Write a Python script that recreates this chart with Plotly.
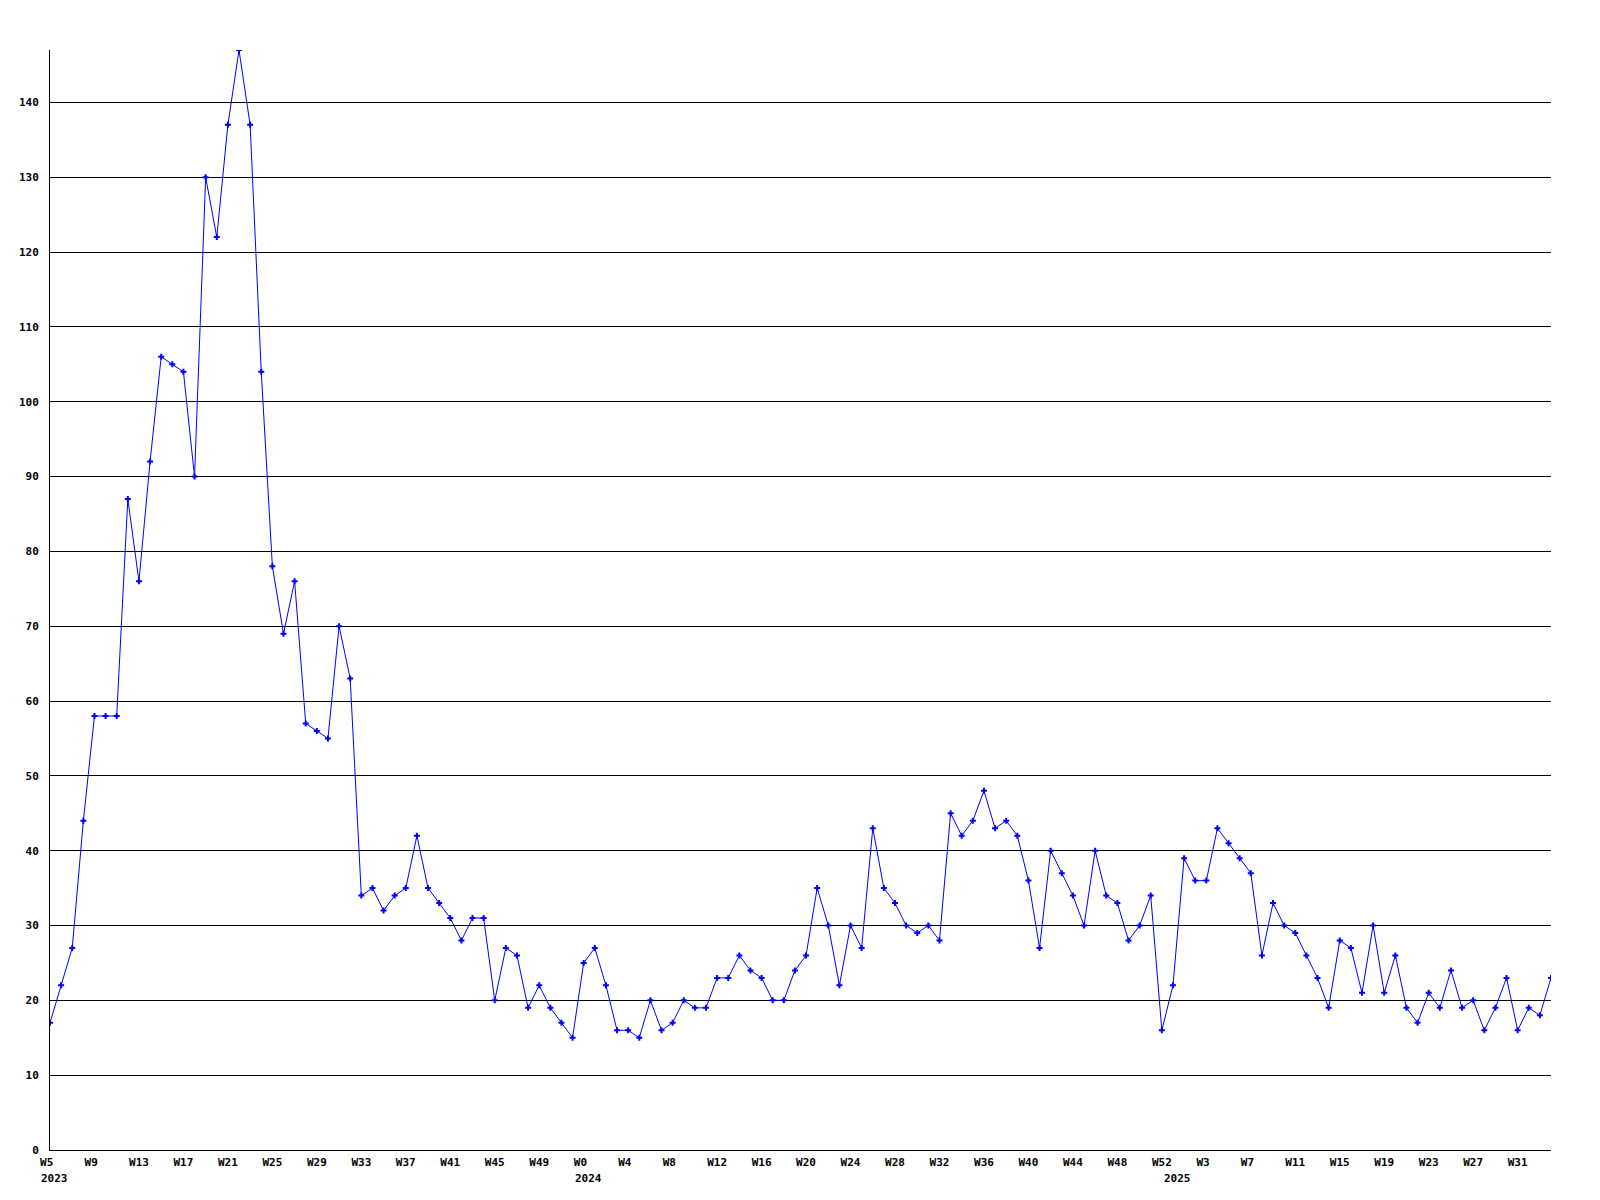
import plotly.graph_objects as go

# ---- data -------------------------------------------------------------
years = [2023, 2024, 2025]
weeks_2023 = list(range(5, 53))   # W5 .. W52
weeks_2024 = list(range(0, 53))   # W0 .. W52
weeks_2025 = list(range(0, 35))   # W0 .. W34

values_2023 = [17, 22, 27, 44, 58, 58, 58, 87, 76, 92, 106, 105, 104, 90, 130, 122,
               137, 147, 137, 104, 78, 69, 76, 57, 56, 55, 70, 63,
               34, 35, 32, 34, 35, 42, 35, 33, 31, 28, 31, 31, 20, 27, 26, 19,
               22, 19, 17, 15]
values_2024 = [25, 27, 22, 16, 16, 15, 20, 16, 17, 20, 19, 19, 23, 23, 26, 24,
               23, 20, 20, 24, 26, 35, 30, 22, 30, 27, 43, 35, 33, 30, 29, 30,
               28, 45, 42, 44, 48, 43, 44, 42, 36, 27, 40, 37, 34, 30, 40, 34,
               33, 28, 30, 34, 16]
values_2025 = [22, 39, 36, 36, 43, 41, 39, 37, 26, 33, 30, 29, 26, 23, 19, 28,
               27, 21, 30, 21, 26, 19, 17, 21, 19, 24, 19, 20, 16, 19, 23, 16,
               19, 18, 23]

y_ticks = [0, 10, 20, 30, 40, 50, 60, 70, 80, 90, 100, 110, 120, 130, 140]
tick_every = 4

# ---- build categories --------------------------------------------------
cats, wk_of = [], []
for yr, wks in zip(years, [weeks_2023, weeks_2024, weeks_2025]):
    for w in wks:
        cats.append(f"{yr}-W{w:02d}")
        wk_of.append(w)
values = values_2023 + values_2024 + values_2025

tickvals = cats[::tick_every]
ticktext = []
for i in range(0, len(cats), tick_every):
    lab = f"W{wk_of[i]}"
    if len(lab) == 2:
        lab = lab + "\u00a0"
    ticktext.append(lab)

year_first = [f"{yr}-W{wks[0]:02d}" for yr, wks in
              zip(years, [weeks_2023, weeks_2024, weeks_2025])]

FONT = "DejaVu Sans Mono"

fig = go.Figure()
fig.add_trace(go.Scatter(
    x=cats, y=values, mode="lines+markers",
    line=dict(color="#0000FF", width=1),
    marker=dict(symbol="cross", size=5, color="#0000FF", line=dict(width=0)),
    showlegend=False, hoverinfo="x+y",
))

for yr, c in zip(years, year_first):
    fig.add_annotation(
        x=c, y=0, xref="x", yref="paper", text=str(yr), showarrow=False,
        xanchor="left", yanchor="top", xshift=-11, yshift=-20,
        font=dict(family=FONT, size=11, color="black", weight="bold"),
    )

fig.update_layout(
    width=1592, height=1192,
    margin=dict(l=42, r=49, t=42, b=50, pad=0),
    paper_bgcolor="white", plot_bgcolor="white",
    font=dict(family=FONT, size=11, color="black", weight="bold"),
    showlegend=False,
)
fig.update_xaxes(
    type="category", categoryorder="array", categoryarray=cats,
    range=[0, len(cats) - 1],
    tickmode="array", tickvals=tickvals, ticktext=ticktext,
    showgrid=False, zeroline=False,
    showline=True, linecolor="black", linewidth=1,
    ticks="outside", ticklen=2, tickcolor="rgba(0,0,0,0)",
    tickangle=0,
    tickfont=dict(family=FONT, size=11, color="black", weight="bold"),
)
fig.update_yaxes(
    range=[0, 147],
    tickmode="array", tickvals=y_ticks,
    showgrid=True, gridcolor="black", gridwidth=1,
    zeroline=False,
    showline=True, linecolor="black", linewidth=1,
    ticks="outside", ticklen=8, tickcolor="rgba(0,0,0,0)",
    tickfont=dict(family=FONT, size=11, color="black", weight="bold"),
)

fig.write_html("out.html")
